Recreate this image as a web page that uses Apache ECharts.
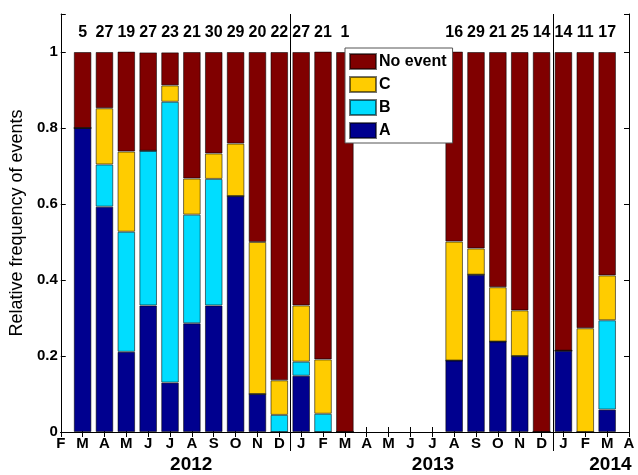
<!DOCTYPE html>
<html>
<head>
<meta charset="utf-8">
<script src="https://cdn.jsdelivr.net/npm/echarts/dist/echarts.min.js"></script>
<style>
  html, body { margin: 0; padding: 0; background: #fff; }
  #chart { width: 638px; height: 475px; }
</style>
</head>
<body>
<div id="chart"></div>
<script>
// Months from Feb 2012 to Apr 2014 (one slot per month)
const months = ['F','M','A','M','J','J','A','S','O','N','D',
                'J','F','M','A','M','J','J','A','S','O','N','D',
                'J','F','M','A'];
const years = ['2012', '2013', '2014'];
const yearCenters = [5.97, 17.03, 25.15];
const yearBreaks = [10.5, 22.5];

// Number of observations in each month (null = no data)
const counts = [null, 5, 27, 19, 27, 23, 21, 30, 29, 20, 22,
                27, 21, 1, null, null, null, null, 16, 29, 21, 25, 14,
                14, 11, 17, null];

// Relative frequency of each event type per month
const shareA = [null, 0.800, 0.593, 0.211, 0.333, 0.130, 0.286, 0.333, 0.621, 0.100, 0,
                0.148, 0, 0, null, null, null, null, 0.188, 0.414, 0.238, 0.200, 0,
                0.214, 0, 0.059, null];
const shareB = [null, 0, 0.111, 0.316, 0.407, 0.739, 0.286, 0.333, 0, 0, 0.045,
                0.037, 0.048, 0, null, null, null, null, 0, 0, 0, 0, 0,
                0, 0, 0.235, null];
const shareC = [null, 0, 0.148, 0.211, 0, 0.043, 0.095, 0.067, 0.138, 0.400, 0.091,
                0.148, 0.143, 0, null, null, null, null, 0.313, 0.069, 0.143, 0.120, 0,
                0, 0.273, 0.118, null];
const shareNone = [null, 0.200, 0.148, 0.263, 0.259, 0.087, 0.333, 0.267, 0.241, 0.500, 0.864,
                   0.667, 0.810, 1.000, null, null, null, null, 0.500, 0.517, 0.619, 0.680, 1.000,
                   0.786, 0.727, 0.588, null];

const seriesNames = ['A', 'B', 'C', 'No event'];
const seriesValues = [shareA, shareB, shareC, shareNone];
const seriesColors = ['#00008F', '#00DDFF', '#FFCC00', '#800000'];

const FONT = 'Liberation Sans, Arial, Helvetica, sans-serif';

const chart = echarts.init(document.getElementById('chart'), null, { renderer: 'canvas' });

// Months without observations stay empty in every series
const barSeries = seriesNames.map((name, k) => ({
  name: name,
  type: 'bar',
  stack: 'share',
  barWidth: 17.6,
  xAxisIndex: 0,
  yAxisIndex: 0,
  itemStyle: {
    color: seriesColors[k],
    borderColor: 'rgba(0,0,0,0.55)',
    borderWidth: 1
  },
  emphasis: { disabled: true },
  data: seriesValues[k].map((v, i) => (counts[i] == null ? '-' : v))
}));

const countSeries = {
  type: 'scatter',
  xAxisIndex: 1,
  yAxisIndex: 0,
  symbolSize: 1,
  silent: true,
  clip: false,
  itemStyle: { color: 'rgba(0,0,0,0)' },
  label: {
    show: true,
    position: 'inside',
    formatter: p => String(p.data[2]),
    fontFamily: FONT,
    fontWeight: 'bold',
    fontSize: 16,
    color: '#000',
    opacity: 1,
    textBorderWidth: 0
  },
  data: counts.map((n, i) => n == null ? null : [i, 1.05, n]).filter(d => d)
};

const tickStyle = { show: true, inside: true, length: 5, lineStyle: { color: '#000', width: 1 } };

chart.setOption({
  animation: false,
  backgroundColor: '#fff',
  grid: { left: 58, right: 9, top: 14, bottom: 43 },
  legend: {
    data: ['No event', 'C', 'B', 'A'],
    orient: 'vertical',
    left: 345,
    top: 48,
    itemWidth: 26,
    itemHeight: 15,
    itemGap: 6,
    padding: [5, 6, 4, 4],
    backgroundColor: '#fff',
    borderColor: '#555',
    borderWidth: 1,
    icon: 'rect',
    selectedMode: false,
    textStyle: { fontFamily: FONT, fontWeight: 'bold', fontSize: 16, lineHeight: 15, color: '#000', padding: [0, 0, 0, -2] }
  },
  xAxis: [{
    // Month slots: bars sit on each tick, the axis runs from tick to tick
    type: 'category',
    data: months,
    boundaryGap: false,
    position: 'bottom',
    axisLine: { show: true, lineStyle: { color: '#000', width: 1 } },
    axisTick: Object.assign({ interval: 0 }, tickStyle),
    splitLine: { show: false },
    axisLabel: {
      interval: 0,
      margin: 4,
      fontFamily: FONT,
      fontWeight: 'bold',
      fontSize: 15,
      color: '#000'
    }
  }, {
    type: 'value',
    min: 0,
    max: 26,
    interval: 1,
    position: 'top',
    axisLine: { show: true, lineStyle: { color: '#000', width: 1 } },
    axisTick: tickStyle,
    splitLine: { show: false },
    axisLabel: { show: false }
  }],
  yAxis: [{
    type: 'value',
    min: 0,
    max: 1.1,
    interval: 0.2,
    position: 'left',
    name: 'Relative frequency of events',
    nameLocation: 'middle',
    nameGap: 28,
    nameTextStyle: { fontFamily: FONT, fontSize: 18, color: '#000' },
    axisLine: { show: true, lineStyle: { color: '#000', width: 1 } },
    axisTick: tickStyle,
    splitLine: { show: false },
    axisLabel: {
      margin: 3,
      formatter: v => v > 1.05 ? '' : (v === 0 ? '0' : (Math.abs(v - 1) < 1e-9 ? '1' : v.toFixed(1))),
      fontFamily: FONT,
      fontWeight: 'bold',
      fontSize: 15,
      color: '#000'
    }
  }, {
    type: 'value',
    min: 0,
    max: 1.1,
    interval: 0.2,
    position: 'right',
    axisLine: { show: true, lineStyle: { color: '#000', width: 1 } },
    axisTick: tickStyle,
    splitLine: { show: false },
    axisLabel: { show: false }
  }],
  series: barSeries.concat([countSeries])
});

// Year separators and year captions placed on the month scale
const px = v => chart.convertToPixel({ xAxisIndex: 1 }, v);
const yTop = chart.convertToPixel({ yAxisIndex: 0 }, 1.1);
const yZero = chart.convertToPixel({ yAxisIndex: 0 }, 0);

const graphics = [];
yearBreaks.forEach(b => {
  const x = Math.round(px(b)) + 0.5;
  graphics.push({
    type: 'line',
    z: 10,
    shape: { x1: x, y1: yTop, x2: x, y2: yZero + 19 },
    style: { stroke: '#000', lineWidth: 1 }
  });
});
years.forEach((label, i) => {
  graphics.push({
    type: 'text',
    z: 10,
    x: px(yearCenters[i]),
    y: yZero + 33,
    style: {
      text: label,
      fill: '#000',
      font: 'bold 19px ' + FONT,
      textAlign: 'center',
      textVerticalAlign: 'middle'
    }
  });
});
chart.setOption({ graphic: graphics });
</script>
</body>
</html>
